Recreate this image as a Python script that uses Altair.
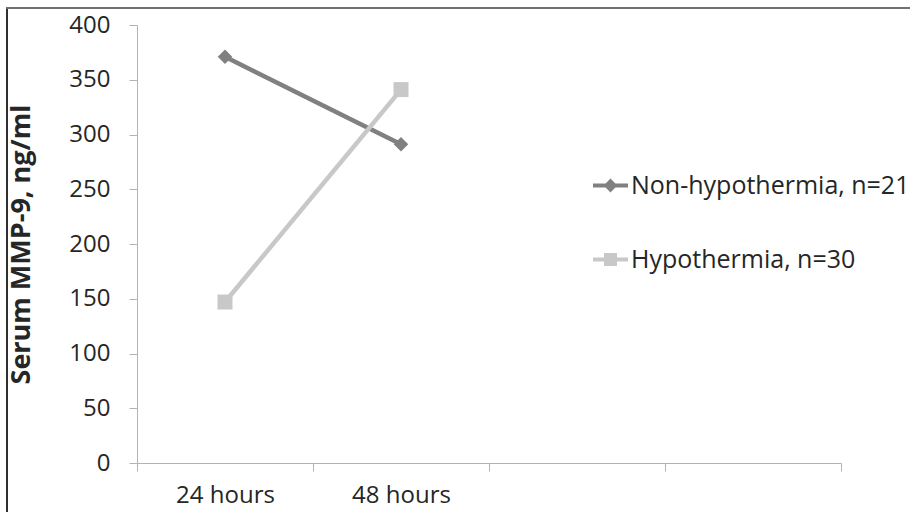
import altair as alt
import pandas as pd

# Category slots on the x axis (two measured time points, two empty slots)
times = ["24 hours", "48 hours"]
slots = ["24 hours", "48 hours", " ", "  "]

series_names = ["Non-hypothermia, n=21", "Hypothermia, n=30"]
non_hypothermia = [371, 291]
hypothermia = [147, 341]

y_ticks = [0, 50, 100, 150, 200, 250, 300, 350, 400]

dark_gray = "#808080"
light_gray = "#c8c8c8"
text_color = "#262626"
axis_gray = "#b3b3b3"
font = "Open Sans"

rows = []
for t, v in zip(times, non_hypothermia):
    rows.append({"time": t, "series": series_names[0], "value": v})
for t, v in zip(times, hypothermia):
    rows.append({"time": t, "series": series_names[1], "value": v})
df = pd.DataFrame(rows)

x_enc = alt.X(
    "time:N",
    scale=alt.Scale(type="band", domain=slots, paddingInner=0, paddingOuter=0),
    axis=alt.Axis(
        tickBand="extent",
        labelAngle=0,
        tickSize=8,
        labelPadding=12,
        domainColor=axis_gray,
        tickColor=axis_gray,
        labelFontSize=24,
    ),
    title=None,
)
y_enc = alt.Y(
    "value:Q",
    scale=alt.Scale(domain=[0, 400], nice=False),
    axis=alt.Axis(
        values=y_ticks,
        grid=False,
        tickSize=8,
        labelPadding=19,
        domainColor=axis_gray,
        tickColor=axis_gray,
        labelFontSize=24,
        titleFontSize=27,
        titleFontWeight="bold",
        titlePadding=33,
    ),
    title="Serum MMP-9, ng/ml",
)
color_scale = alt.Scale(domain=series_names, range=[dark_gray, light_gray])

# Legend glyphs: a short line segment with the series marker on it
diamond_path = ("M-1,-0.12 L-0.28,-0.12 L0,-0.4 L0.28,-0.12 L1,-0.12 L1,0.12 "
                "L0.28,0.12 L0,0.4 L-0.28,0.12 L-1,0.12 Z")
square_path = ("M-1,-0.12 L-0.37,-0.12 L-0.37,-0.37 L0.37,-0.37 L0.37,-0.12 "
               "L1,-0.12 L1,0.12 L0.37,0.12 L0.37,0.37 L-0.37,0.37 L-0.37,0.12 "
               "L-1,0.12 Z")

base = alt.Chart(df)

lines = base.mark_line(strokeWidth=4.5).encode(
    x=x_enc,
    y=y_enc,
    color=alt.Color("series:N", scale=color_scale, legend=None),
)

diamonds = base.transform_filter(
    alt.datum.series == series_names[0]
).mark_point(shape="diamond", filled=True, size=210, opacity=1).encode(
    x=x_enc, y=y_enc,
    color=alt.Color("series:N", scale=color_scale, legend=None),
)

squares = base.transform_filter(
    alt.datum.series == series_names[1]
).mark_point(shape="square", filled=True, size=225, opacity=1).encode(
    x=x_enc, y=y_enc,
    color=alt.Color("series:N", scale=color_scale, legend=None),
)

legend_props = dict(
    orient="none",
    legendX=456,
    legendY=143,
    title=None,
    padding=0,
    symbolSize=1225,
    symbolStrokeWidth=0,
    symbolOpacity=1,
    labelFont=font,
    labelFontSize=25,
    labelColor=text_color,
    labelOffset=3,
    labelLimit=500,
    rowPadding=43,
)

legend_layer = base.transform_filter("false").mark_point(filled=True).encode(
    x=x_enc,
    y=y_enc,
    color=alt.Color("series:N", scale=color_scale, legend=alt.Legend(**legend_props)),
    shape=alt.Shape(
        "series:N",
        scale=alt.Scale(domain=series_names, range=[diamond_path, square_path]),
        legend=alt.Legend(**legend_props),
    ),
)

frame_df = pd.DataFrame({"k": [0]})
frame_left = alt.Chart(frame_df).mark_rule(color="#303030", strokeWidth=2).encode(
    x=alt.value(-130), y=alt.value(-17), y2=alt.value(490)
)
frame_top = alt.Chart(frame_df).mark_rule(color="#707070", strokeWidth=2).encode(
    x=alt.value(-131), x2=alt.value(780), y=alt.value(-17)
)

chart = alt.layer(
    legend_layer, frame_left, frame_top, lines, squares, diamonds
).resolve_legend(
    color="independent", shape="independent"
).properties(
    width=704,
    height=438,
    autosize=alt.AutoSizeParams(type="none"),
    padding={"left": 137, "top": 25, "right": 69, "bottom": 49},
    background="white",
).configure_view(
    stroke=None
).configure_axis(
    labelFont=font,
    titleFont=font,
    labelColor=text_color,
    titleColor=text_color,
)

chart.save("out.html", embed_options={"renderer": "svg", "actions": False})
